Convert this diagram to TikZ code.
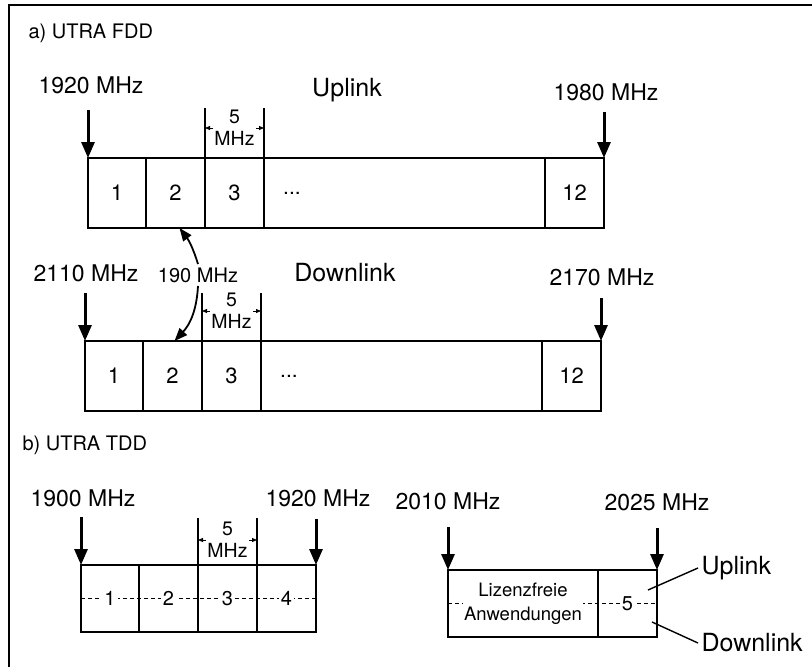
\documentclass[tikz,border=0pt]{standalone}
\usepackage{fontspec}
\setmainfont{TeX Gyre Heros}
\usetikzlibrary{arrows.meta, positioning}

\begin{document}
\begin{tikzpicture}[
  x=1pt, y=-1pt,
  node distance = 0pt,
  chan/.style     = {rectangle, draw, line width=1.6pt, inner sep=0pt, outer sep=0pt,
                     minimum width=59pt, minimum height=70pt,
                     font=\fontsize{22}{25}\selectfont},
  widechan/.style = {chan, minimum width=281pt},
  tchan/.style    = {chan, minimum height=67pt},
  freq/.style     = {font=\fontsize{23}{27}\selectfont},
  dirlab/.style   = {font=\fontsize{25}{29}\selectfont},
  heading/.style  = {anchor=west, font=\fontsize{20}{24}\selectfont},
  dimtext/.style  = {fill=white, inner xsep=1pt, inner ysep=0pt, align=center,
                     font=\fontsize{19.5}{22}\selectfont},
  tnum/.style     = {fill=white, inner sep=2pt, font=\fontsize{20}{23}\selectfont},
  band/.style     = {-{Triangle[length=16pt,width=13pt]}, line width=3pt},
  hop/.style      = {-{Triangle[length=13pt,width=10pt]}, line width=1.8pt},
  dimtick/.style  = {line width=1.1pt},
  dim/.style      = {{Triangle[length=5pt,width=4pt]}-{Triangle[length=5pt,width=4pt]},
                     line width=0.8pt},
  slot/.style     = {dash pattern=on 4pt off 3pt, line width=1.1pt},
  pointer/.style  = {line width=1.4pt}
]
\useasboundingbox (0,0) rectangle (812,667);
\draw[line width=2.8pt] (812,5) -- (9,5) -- (9,667);

% a) FDD, uplink band
\node[heading] (fddtitle) at (25,33) {a) UTRA FDD};
\node[chan, minimum width=58pt, anchor=north west] (u1) at (88,158) {1};
\node[chan, right=of u1]     (u2)  {2};
\node[chan, right=of u2]     (u3)  {3};
\node[widechan, right=of u3] (u4)  {};
\node[chan, right=of u4]     (u12) {12};
\node[font=\fontsize{21}{24}\selectfont] (udots) at ([xshift=28pt]u4.west) {...};

\node[freq]   (f1920) at (91,85)  {1920 MHz};
\node[dirlab] (upl)   at (347,90) {Uplink};
\node[freq]   (f1980) at (606,92) {1980 MHz};

\draw[band] ([yshift=48pt]u1.north west) -- (u1.north west);
\draw[band] ([yshift=46pt]u12.north east) -- (u12.north east);
\draw[dimtick] (u3.north west) -- ([yshift=50pt]u3.north west);
\draw[dimtick] (u3.north east) -- ([yshift=50pt]u3.north east);
\draw[dim] ([yshift=30pt]u3.north west) -- node[dimtext]{5\\MHz} ([yshift=30pt]u3.north east);

% a) FDD, downlink band
\node[chan, minimum width=58pt, anchor=north west] (d1) at (85,341) {1};
\node[chan, right=of d1]     (d2)  {2};
\node[chan, right=of d2]     (d3)  {3};
\node[widechan, right=of d3] (d4)  {};
\node[chan, right=of d4]     (d12) {12};
\node[font=\fontsize{21}{24}\selectfont] (ddots) at ([xshift=28pt]d4.west) {...};

\node[freq]   (f2110) at (86,273)  {2110 MHz};
\node[font=\fontsize{20}{24}\selectfont] (f190) at (198,275) {190 MHz};
\node[dirlab] (dnl)   at (345,273) {Downlink};
\node[freq]   (f2170) at (602,277) {2170 MHz};

\draw[band] ([yshift=48pt]d1.north west) -- (d1.north west);
\draw[band] ([yshift=43pt]d12.north east) -- (d12.north east);
\draw[dimtick] (d3.north west) -- ([yshift=48pt]d3.north west);
\draw[dimtick] (d3.north east) -- ([yshift=48pt]d3.north east);
\draw[dim] ([yshift=30pt]d3.north west) -- node[dimtext]{5\\MHz} ([yshift=30pt]d3.north east);

\draw[hop] (f190.north) to[bend right=10] ([xshift=4pt]u2.south);
\draw[hop] (f190.south) to[bend left=20] ([xshift=2pt]d2.north);

% b) TDD
\node[heading] (tddtitle) at (19,445) {b) UTRA TDD};
\node[tchan, minimum width=58pt, anchor=north west] (t1) at (81,565) {};
\node[tchan, right=of t1] (t2) {};
\node[tchan, right=of t2] (t3) {};
\node[tchan, right=of t3] (t4) {};
\draw[slot] (t1.west) -- (t4.east);
\foreach \i in {1,...,4}
  \node[tnum] (tn\i) at (t\i) {\i};

\node[freq] (f1900)  at (83,498)  {1900 MHz};
\node[freq] (f1920b) at (318,498) {1920 MHz};

\draw[band] ([yshift=48pt]t1.north west) -- (t1.north west);
\draw[band] ([yshift=46pt]t4.north east) -- (t4.north east);
\draw[dimtick] (t3.north west) -- ([yshift=47pt]t3.north west);
\draw[dimtick] (t3.north east) -- ([yshift=47pt]t3.north east);
\draw[dim] ([yshift=25pt]t3.north west) -- node[dimtext]{5\\MHz} ([yshift=25pt]t3.north east);

\node[tchan, minimum width=150pt, anchor=north west] (r1) at (448,570) {};
\node[tchan, right=of r1] (r2) {};
\draw[slot] (r1.west) -- (r2.east);
\node[tnum, align=center, inner sep=1pt, font=\fontsize{18.5}{24}\selectfont] (lizenz) at (r1) {Lizenzfreie\\Anwendungen};
\node[tnum] (tn5) at (r2) {5};

\node[freq] (f2010) at (448,501) {2010 MHz};
\node[freq] (f2025) at (657,502) {2025 MHz};

\draw[band] ([yshift=43pt]r1.north west) -- (r1.north west);
\draw[band] ([yshift=42pt]r2.north east) -- (r2.north east);

\coordinate (upin) at (648,590);
\coordinate (dnin) at (652,622);
\node[dirlab, anchor=west] (upl2) at (698,568) {Uplink};
\node[dirlab, anchor=west] (dnl2) at (698,643) {Downlink};
\draw[pointer] (upin) -- (upl2.west);
\draw[pointer] (dnin) -- (dnl2.west);
\end{tikzpicture}
\end{document}
